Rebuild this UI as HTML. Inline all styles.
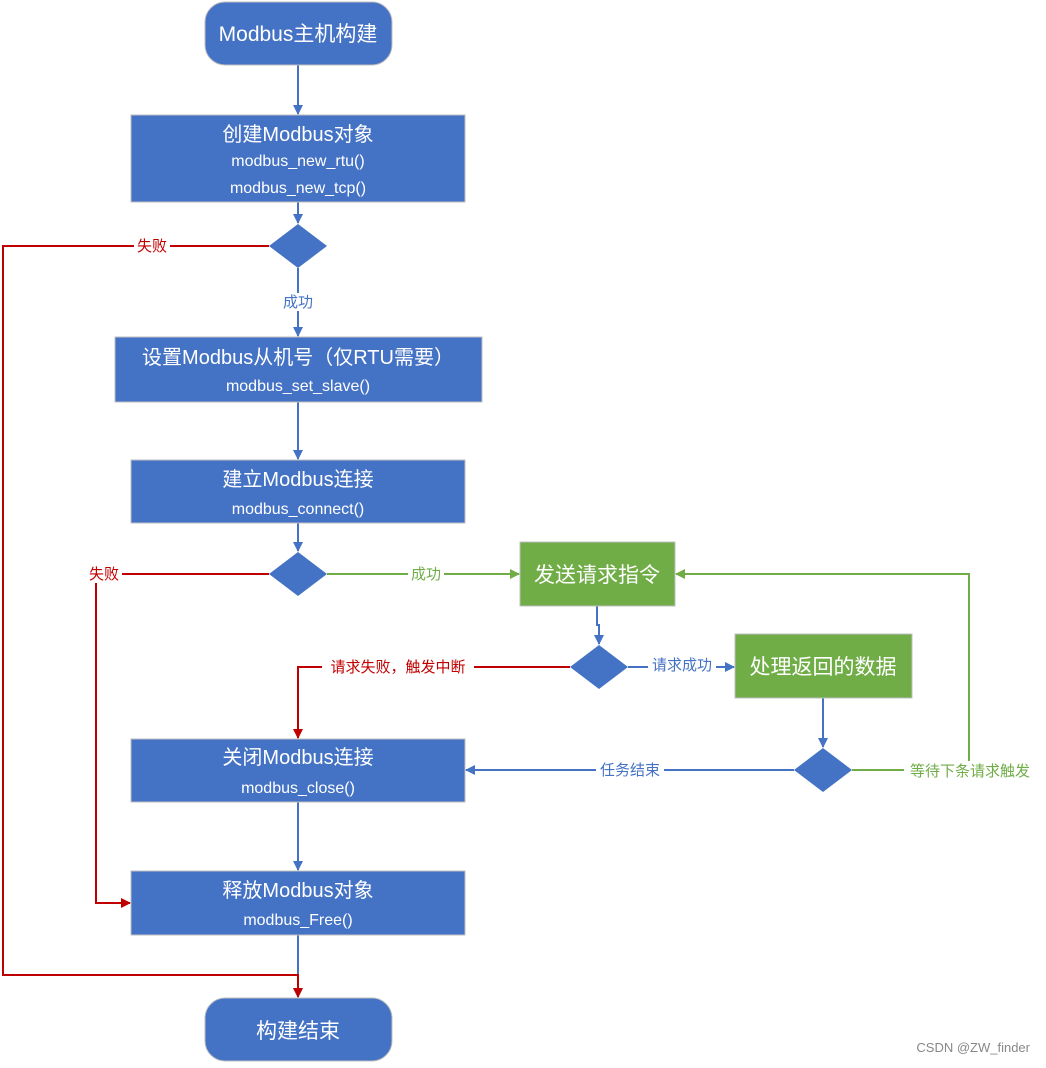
<!DOCTYPE html>
<html><head><meta charset="utf-8"><style>
html,body{margin:0;padding:0;background:#fff;}
text{font-family:"Liberation Sans","Noto Sans CJK SC",sans-serif;}
</style></head><body>
<svg width="1046" height="1063" viewBox="0 0 1046 1063" xmlns="http://www.w3.org/2000/svg">
<defs>
<marker id="ab" markerWidth="10" markerHeight="10" refX="9" refY="5" orient="auto" markerUnits="userSpaceOnUse"><path d="M0,0 L10,5 L0,10 z" fill="#4472C4"/></marker>
<marker id="ar" markerWidth="10" markerHeight="10" refX="9" refY="5" orient="auto" markerUnits="userSpaceOnUse"><path d="M0,0 L10,5 L0,10 z" fill="#C00000"/></marker>
<marker id="ag" markerWidth="10" markerHeight="10" refX="9" refY="5" orient="auto" markerUnits="userSpaceOnUse"><path d="M0,0 L10,5 L0,10 z" fill="#70AD47"/></marker>
</defs>
<g fill="none" stroke-width="2">
<!-- blue verticals -->
<path d="M298,65 V114" stroke="#4472C4" marker-end="url(#ab)"/>
<path d="M298,202 V223" stroke="#4472C4" marker-end="url(#ab)"/>
<path d="M298,268 V336" stroke="#4472C4" marker-end="url(#ab)"/>
<path d="M298,402 V459" stroke="#4472C4" marker-end="url(#ab)"/>
<path d="M298,523 V551" stroke="#4472C4" marker-end="url(#ab)"/>
<path d="M597,606 V625 H599 V644" stroke="#4472C4" marker-end="url(#ab)"/>
<path d="M628,667 H734" stroke="#4472C4" marker-end="url(#ab)"/>
<path d="M823,698 V747" stroke="#4472C4" marker-end="url(#ab)"/>
<path d="M794,770 H466" stroke="#4472C4" marker-end="url(#ab)"/>
<path d="M298,802 V870" stroke="#4472C4" marker-end="url(#ab)"/>
<path d="M298,935 V997" stroke="#4472C4" marker-end="url(#ab)"/>
<!-- red -->
<path d="M269,246 H3 V975 H298 V997" stroke="#C00000" marker-end="url(#ar)"/>
<path d="M269,574 H96 V903 H130" stroke="#C00000" marker-end="url(#ar)"/>
<path d="M570,667 H298 V738" stroke="#C00000" marker-end="url(#ar)"/>
<!-- green -->
<path d="M327,574 H519" stroke="#70AD47" marker-end="url(#ag)"/>
<path d="M852,770 H969 V574 H676" stroke="#70AD47" marker-end="url(#ag)"/>
</g>
<!-- shapes -->
<g stroke="#BFBFBF" stroke-width="1">
<rect x="205" y="2" width="187" height="63" rx="20" fill="#4472C4"/>
<rect x="131" y="115" width="334" height="87" fill="#4472C4"/>
<rect x="115" y="337" width="367" height="65" fill="#4472C4"/>
<rect x="131" y="460" width="334" height="63" fill="#4472C4"/>
<rect x="520" y="542" width="155" height="64" fill="#70AD47"/>
<rect x="735" y="634" width="177" height="64" fill="#70AD47"/>
<rect x="131" y="739" width="334" height="63" fill="#4472C4"/>
<rect x="131" y="871" width="334" height="64" fill="#4472C4"/>
<rect x="205" y="998" width="187" height="63" rx="20" fill="#4472C4"/>
</g>
<g fill="#4472C4">
<path d="M298,224 L327,246 L298,268 L269,246 z"/>
<path d="M298,552 L327,574 L298,596 L269,574 z"/>
<path d="M599,645 L628,667 L599,689 L570,667 z"/>
<path d="M823,748 L852,770 L823,792 L794,770 z"/>
</g>
<!-- node text -->
<g fill="#fff" text-anchor="middle">
<text x="298" y="41" font-size="21">Modbus主机构建</text>
<text x="298" y="141" font-size="20">创建Modbus对象</text>
<text x="298" y="166" font-size="16">modbus_new_rtu()</text>
<text x="298" y="193" font-size="16">modbus_new_tcp()</text>
<text x="298" y="364" font-size="20">设置Modbus从机号（仅RTU需要）</text>
<text x="298" y="391" font-size="16">modbus_set_slave()</text>
<text x="298" y="486" font-size="20">建立Modbus连接</text>
<text x="298" y="514" font-size="16">modbus_connect()</text>
<text x="597" y="582" font-size="21">发送请求指令</text>
<text x="823" y="674" font-size="21">处理返回的数据</text>
<text x="298" y="764" font-size="20">关闭Modbus连接</text>
<text x="298" y="793" font-size="16">modbus_close()</text>
<text x="298" y="897" font-size="20">释放Modbus对象</text>
<text x="298" y="925" font-size="16">modbus_Free()</text>
<text x="298" y="1038" font-size="21">构建结束</text>
</g>
<!-- edge labels -->
<g font-size="15" text-anchor="middle">
<rect x="134" y="237" width="36" height="18" fill="#fff"/><text x="152" y="251" fill="#C00000">失败</text>
<rect x="280" y="293" width="36" height="18" fill="#fff"/><text x="298" y="307" fill="#4472C4">成功</text>
<rect x="86" y="565" width="36" height="18" fill="#fff"/><text x="104" y="579" fill="#C00000">失败</text>
<rect x="408" y="565" width="36" height="18" fill="#fff"/><text x="426" y="579" fill="#70AD47">成功</text>
<rect x="322" y="658" width="152" height="18" fill="#fff"/><text x="398" y="672" fill="#C00000">请求失败，触发中断</text>
<rect x="648" y="656" width="68" height="18" fill="#fff"/><text x="682" y="670" fill="#4472C4">请求成功</text>
<rect x="596" y="761" width="68" height="18" fill="#fff"/><text x="630" y="775" fill="#4472C4">任务结束</text>
<rect x="904" y="761" width="134" height="18" fill="#fff"/><text x="970" y="776" fill="#70AD47">等待下条请求触发</text>
</g>
<text x="1030" y="1052" font-size="13" fill="#888" text-anchor="end">CSDN @ZW_finder</text>
</svg>
</body></html>
